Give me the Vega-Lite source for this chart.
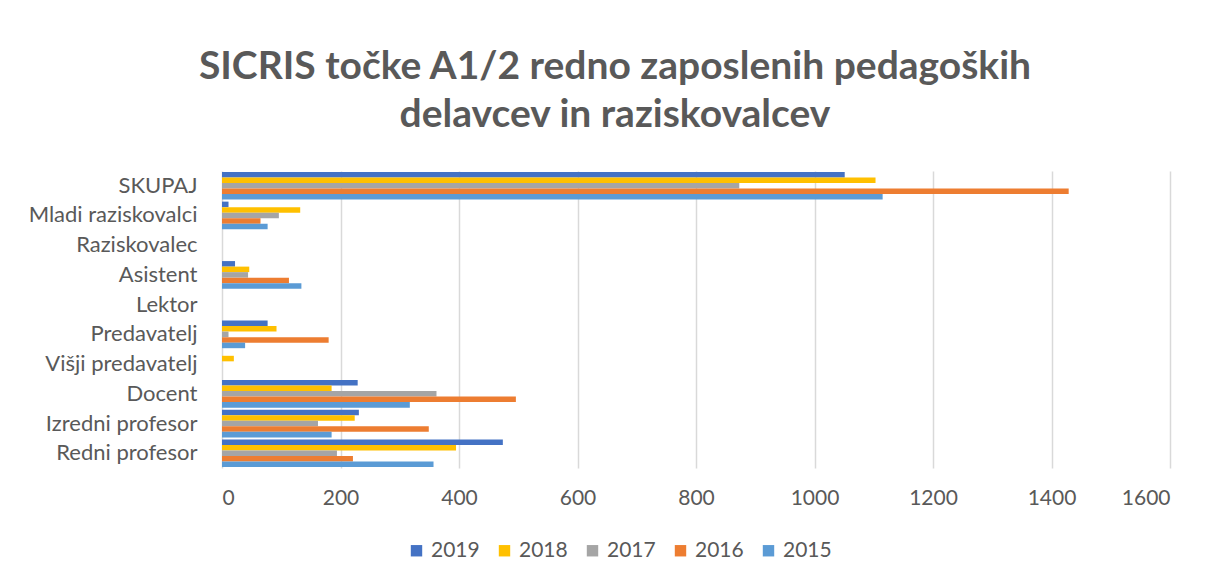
{
  "$schema": "https://vega.github.io/schema/vega-lite/v6.json",
  "width": 948,
  "height": 297,
  "autosize": {"type": "none"},
  "padding": {"left": 222, "top": 171, "right": 41, "bottom": 113},
  "background": "white",
  "title": {
    "text": ["SICRIS točke A1/2 redno zaposlenih pedagoških", "delavcev in raziskovalcev"],
    "font": "Lato",
    "fontSize": 39,
    "fontWeight": "bold",
    "color": "#595959",
    "anchor": "middle",
    "dx": -81,
    "offset": 36,
    "lineHeight": 48
  },
  "data": {
    "values": [
      {"kategorija": "SKUPAJ", "leto": "2019", "vrednost": 1051},
      {"kategorija": "SKUPAJ", "leto": "2018", "vrednost": 1103},
      {"kategorija": "SKUPAJ", "leto": "2017", "vrednost": 873},
      {"kategorija": "SKUPAJ", "leto": "2016", "vrednost": 1429},
      {"kategorija": "SKUPAJ", "leto": "2015", "vrednost": 1115},
      {"kategorija": "Mladi raziskovalci", "leto": "2019", "vrednost": 11},
      {"kategorija": "Mladi raziskovalci", "leto": "2018", "vrednost": 132},
      {"kategorija": "Mladi raziskovalci", "leto": "2017", "vrednost": 96},
      {"kategorija": "Mladi raziskovalci", "leto": "2016", "vrednost": 65},
      {"kategorija": "Mladi raziskovalci", "leto": "2015", "vrednost": 77},
      {"kategorija": "Raziskovalec", "leto": "2019", "vrednost": 0},
      {"kategorija": "Raziskovalec", "leto": "2018", "vrednost": 0},
      {"kategorija": "Raziskovalec", "leto": "2017", "vrednost": 0},
      {"kategorija": "Raziskovalec", "leto": "2016", "vrednost": 0},
      {"kategorija": "Raziskovalec", "leto": "2015", "vrednost": 0},
      {"kategorija": "Asistent", "leto": "2019", "vrednost": 22},
      {"kategorija": "Asistent", "leto": "2018", "vrednost": 46},
      {"kategorija": "Asistent", "leto": "2017", "vrednost": 44},
      {"kategorija": "Asistent", "leto": "2016", "vrednost": 113},
      {"kategorija": "Asistent", "leto": "2015", "vrednost": 134},
      {"kategorija": "Lektor", "leto": "2019", "vrednost": 0},
      {"kategorija": "Lektor", "leto": "2018", "vrednost": 0},
      {"kategorija": "Lektor", "leto": "2017", "vrednost": 0},
      {"kategorija": "Lektor", "leto": "2016", "vrednost": 0},
      {"kategorija": "Lektor", "leto": "2015", "vrednost": 0},
      {"kategorija": "Predavatelj", "leto": "2019", "vrednost": 77},
      {"kategorija": "Predavatelj", "leto": "2018", "vrednost": 92},
      {"kategorija": "Predavatelj", "leto": "2017", "vrednost": 11},
      {"kategorija": "Predavatelj", "leto": "2016", "vrednost": 180},
      {"kategorija": "Predavatelj", "leto": "2015", "vrednost": 39},
      {"kategorija": "Višji predavatelj", "leto": "2019", "vrednost": 0},
      {"kategorija": "Višji predavatelj", "leto": "2018", "vrednost": 20},
      {"kategorija": "Višji predavatelj", "leto": "2017", "vrednost": 0},
      {"kategorija": "Višji predavatelj", "leto": "2016", "vrednost": 0},
      {"kategorija": "Višji predavatelj", "leto": "2015", "vrednost": 0},
      {"kategorija": "Docent", "leto": "2019", "vrednost": 229},
      {"kategorija": "Docent", "leto": "2018", "vrednost": 185},
      {"kategorija": "Docent", "leto": "2017", "vrednost": 362},
      {"kategorija": "Docent", "leto": "2016", "vrednost": 496},
      {"kategorija": "Docent", "leto": "2015", "vrednost": 317},
      {"kategorija": "Izredni profesor", "leto": "2019", "vrednost": 231},
      {"kategorija": "Izredni profesor", "leto": "2018", "vrednost": 224},
      {"kategorija": "Izredni profesor", "leto": "2017", "vrednost": 162},
      {"kategorija": "Izredni profesor", "leto": "2016", "vrednost": 349},
      {"kategorija": "Izredni profesor", "leto": "2015", "vrednost": 185},
      {"kategorija": "Redni profesor", "leto": "2019", "vrednost": 474},
      {"kategorija": "Redni profesor", "leto": "2018", "vrednost": 395},
      {"kategorija": "Redni profesor", "leto": "2017", "vrednost": 194},
      {"kategorija": "Redni profesor", "leto": "2016", "vrednost": 221},
      {"kategorija": "Redni profesor", "leto": "2015", "vrednost": 357}
    ]
  },
  "mark": {"type": "bar"},
  "encoding": {
    "y": {
      "field": "kategorija",
      "type": "nominal",
      "sort": ["SKUPAJ", "Mladi raziskovalci", "Raziskovalec", "Asistent", "Lektor", "Predavatelj", "Višji predavatelj", "Docent", "Izredni profesor", "Redni profesor"],
      "scale": {"paddingInner": 0.07, "paddingOuter": 0.03},
      "axis": {
        "title": null,
        "domain": false,
        "ticks": false,
        "labelFont": "Lato",
        "labelFontSize": 22,
        "labelColor": "#595959",
        "labelPadding": 25
      }
    },
    "yOffset": {
      "field": "leto",
      "type": "nominal",
      "sort": ["2019", "2018", "2017", "2016", "2015"],
      "scale": {"paddingInner": 0, "paddingOuter": 0}
    },
    "x": {
      "field": "vrednost",
      "type": "quantitative",
      "scale": {"domain": [0, 1600]},
      "axis": {
        "title": null,
        "values": [0, 200, 400, 600, 800, 1000, 1200, 1400, 1600],
        "format": "d",
        "domain": false,
        "ticks": false,
        "grid": true,
        "gridColor": "#d9d9d9",
        "gridWidth": 1.5,
        "labelFont": "Lato",
        "labelFontSize": 21,
        "labelColor": "#595959",
        "labelPadding": 19
      }
    },
    "color": {
      "field": "leto",
      "type": "nominal",
      "sort": ["2019", "2018", "2017", "2016", "2015"],
      "scale": {
        "domain": ["2019", "2018", "2017", "2016", "2015"],
        "range": ["#4472C4", "#FFC000", "#A5A5A5", "#ED7D31", "#5B9BD5"]
      },
      "legend": {
        "title": null,
        "orient": "none",
        "direction": "horizontal",
        "legendX": 184,
        "legendY": 369,
        "symbolType": "square",
        "symbolSize": 130,
        "symbolStrokeWidth": 0,
        "labelFont": "Lato",
        "labelFontSize": 21,
        "labelColor": "#595959",
        "labelOffset": 4,
        "columnPadding": 14
      }
    }
  },
  "config": {
    "view": {"stroke": null}
  }
}
